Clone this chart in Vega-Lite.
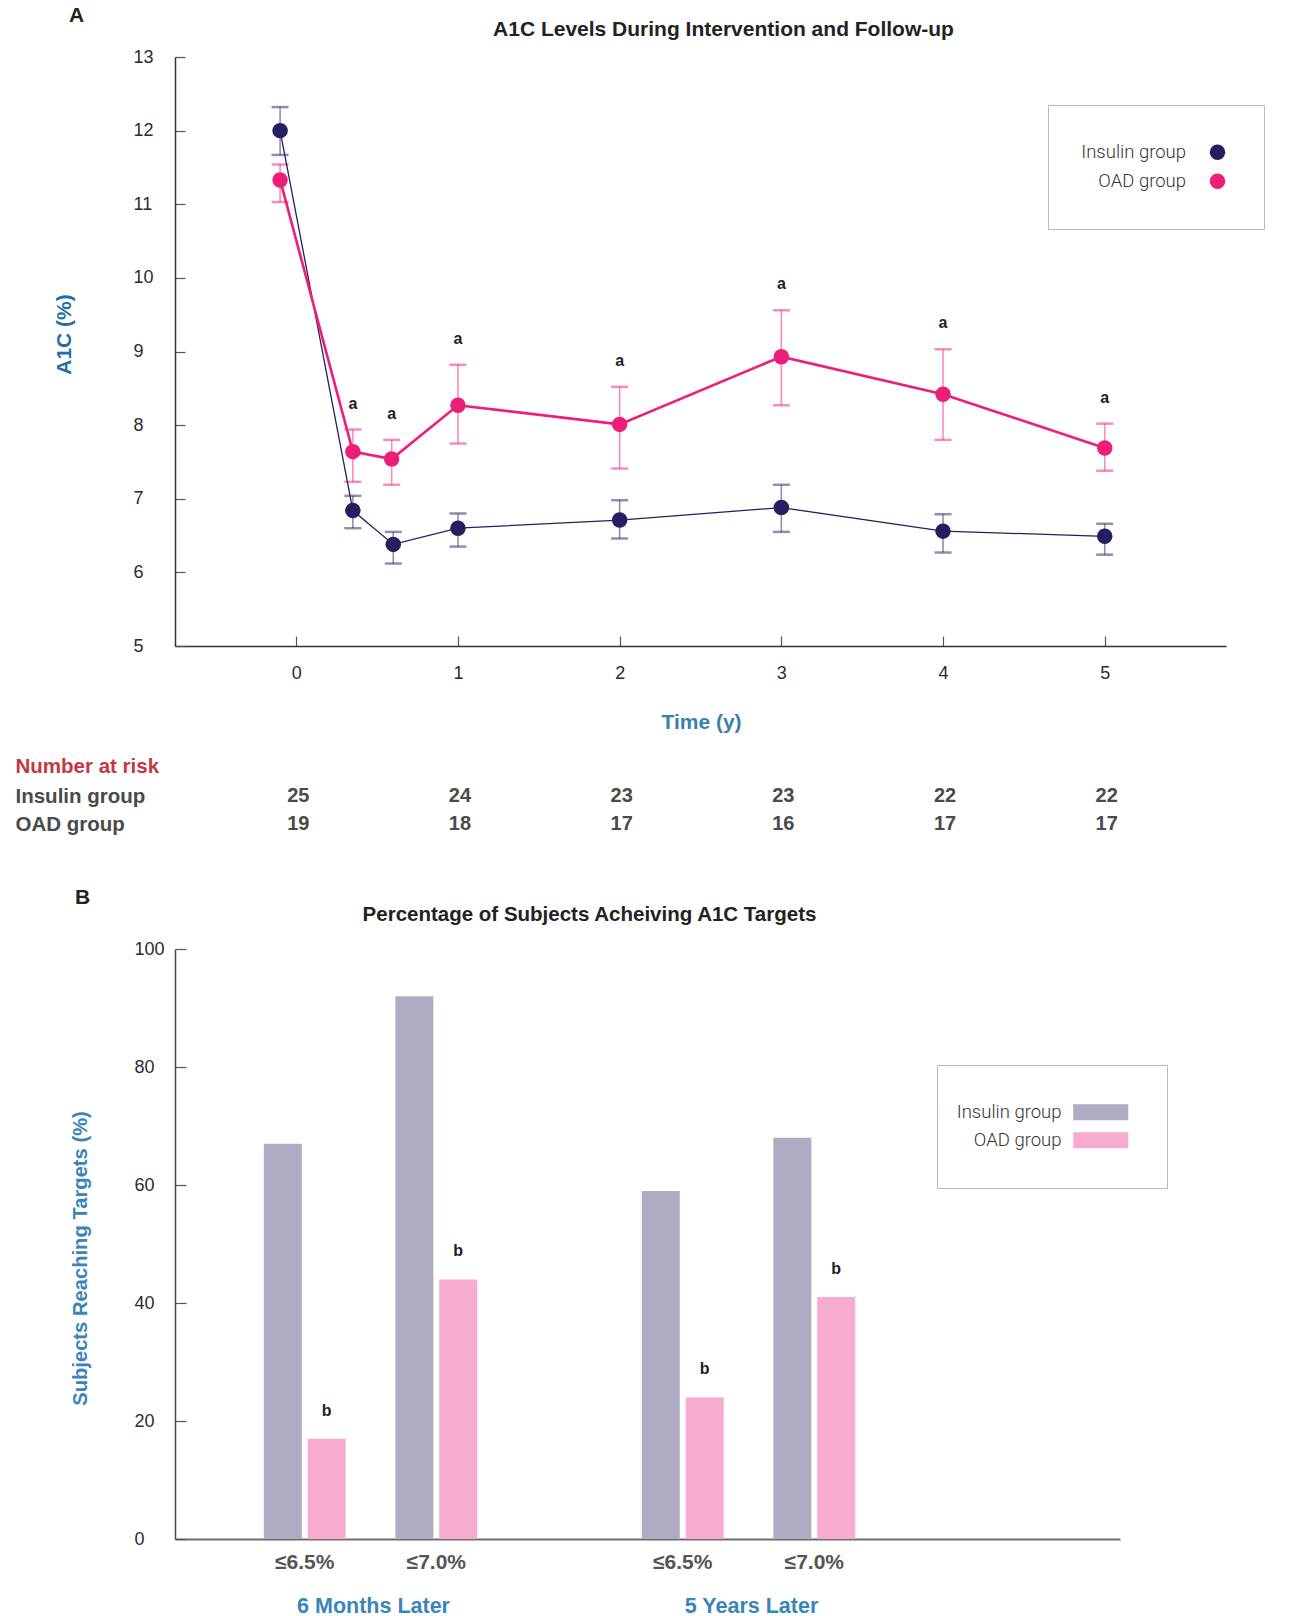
{
  "$schema": "https://vega.github.io/schema/vega-lite/v6.json",
  "autosize": {"type": "pad"},
  "padding": {"left": 15, "top": 5, "right": 5, "bottom": 5},
  "background": "white",
  "title": {"text": "A", "anchor": "start", "frame": "bounds", "offset": -7, "dx": 54, "fontSize": 21, "fontWeight": "bold", "font": "Liberation Sans", "color": "#222222"},
  "datasets": {
    "a1c": [
      {"group": "Insulin group", "year": -0.1, "mean": 12.0, "lo": 11.67, "hi": 12.32, "sig": ""},
      {"group": "Insulin group", "year": 0.35, "mean": 6.84, "lo": 6.60, "hi": 7.04, "sig": ""},
      {"group": "Insulin group", "year": 0.6, "mean": 6.38, "lo": 6.12, "hi": 6.55, "sig": ""},
      {"group": "Insulin group", "year": 1, "mean": 6.60, "lo": 6.35, "hi": 6.80, "sig": ""},
      {"group": "Insulin group", "year": 2, "mean": 6.71, "lo": 6.46, "hi": 6.98, "sig": ""},
      {"group": "Insulin group", "year": 3, "mean": 6.88, "lo": 6.55, "hi": 7.19, "sig": ""},
      {"group": "Insulin group", "year": 4, "mean": 6.56, "lo": 6.27, "hi": 6.79, "sig": ""},
      {"group": "Insulin group", "year": 5, "mean": 6.49, "lo": 6.24, "hi": 6.66, "sig": ""},
      {"group": "OAD group", "year": -0.1, "mean": 11.33, "lo": 11.03, "hi": 11.54, "sig": ""},
      {"group": "OAD group", "year": 0.35, "mean": 7.64, "lo": 7.23, "hi": 7.94, "sig": "a"},
      {"group": "OAD group", "year": 0.59, "mean": 7.54, "lo": 7.19, "hi": 7.80, "sig": "a"},
      {"group": "OAD group", "year": 1, "mean": 8.27, "lo": 7.75, "hi": 8.82, "sig": "a"},
      {"group": "OAD group", "year": 2, "mean": 8.01, "lo": 7.41, "hi": 8.52, "sig": "a"},
      {"group": "OAD group", "year": 3, "mean": 8.93, "lo": 8.27, "hi": 9.56, "sig": "a"},
      {"group": "OAD group", "year": 4, "mean": 8.42, "lo": 7.80, "hi": 9.03, "sig": "a"},
      {"group": "OAD group", "year": 5, "mean": 7.69, "lo": 7.38, "hi": 8.02, "sig": "a"}
    ],
    "risk": [
      {"group": "Insulin group", "year": 0, "n": 25},
      {"group": "Insulin group", "year": 1, "n": 24},
      {"group": "Insulin group", "year": 2, "n": 23},
      {"group": "Insulin group", "year": 3, "n": 23},
      {"group": "Insulin group", "year": 4, "n": 22},
      {"group": "Insulin group", "year": 5, "n": 22},
      {"group": "OAD group", "year": 0, "n": 19},
      {"group": "OAD group", "year": 1, "n": 18},
      {"group": "OAD group", "year": 2, "n": 17},
      {"group": "OAD group", "year": 3, "n": 16},
      {"group": "OAD group", "year": 4, "n": 17},
      {"group": "OAD group", "year": 5, "n": 17}
    ],
    "bars": [
      {"period": "6 Months Later", "target": "≤6.5%", "group": "Insulin group", "slot": "≤6.5% Insulin group", "value": 67, "sig": ""},
      {"period": "6 Months Later", "target": "≤6.5%", "group": "OAD group", "slot": "≤6.5% OAD group", "value": 17, "sig": "b"},
      {"period": "6 Months Later", "target": "≤7.0%", "group": "Insulin group", "slot": "≤7.0% Insulin group", "value": 92, "sig": ""},
      {"period": "6 Months Later", "target": "≤7.0%", "group": "OAD group", "slot": "≤7.0% OAD group", "value": 44, "sig": "b"},
      {"period": "5 Years Later", "target": "≤6.5%", "group": "Insulin group", "slot": "≤6.5% Insulin group", "value": 59, "sig": ""},
      {"period": "5 Years Later", "target": "≤6.5%", "group": "OAD group", "slot": "≤6.5% OAD group", "value": 24, "sig": "b"},
      {"period": "5 Years Later", "target": "≤7.0%", "group": "Insulin group", "slot": "≤7.0% Insulin group", "value": 68, "sig": ""},
      {"period": "5 Years Later", "target": "≤7.0%", "group": "OAD group", "slot": "≤7.0% OAD group", "value": 41, "sig": "b"}
    ],
    "targets": [
      {"period": "6 Months Later", "slot": "≤6.5%", "label": "≤6.5%"},
      {"period": "6 Months Later", "slot": "≤7.0%", "label": "≤7.0%"},
      {"period": "5 Years Later", "slot": "≤6.5%", "label": "≤6.5%"},
      {"period": "5 Years Later", "slot": "≤7.0%", "label": "≤7.0%"}
    ]
  },
  "vconcat": [
    {
      "width": 1051,
      "height": 589,
      "title": {"text": "A1C Levels During Intervention and Follow-up", "anchor": "middle", "dx": 23, "offset": 8, "fontSize": 21, "fontWeight": "bold", "font": "Liberation Sans", "color": "#222222"},
      "data": {"name": "a1c"},
      "encoding": {
        "x": {"field": "year", "type": "quantitative", "scale": {"domain": [-0.75, 5.75], "nice": false, "zero": false},
          "axis": {"values": [0, 1, 2, 3, 4, 5], "tickSize": -10, "labelPadding": 37, "labelBaseline": "middle", "labelFlush": false,
            "title": "Time (y)", "titleX": 526, "titleY": 76, "titleAlign": "center", "titleBaseline": "middle", "titleFontSize": 21, "titleFontWeight": "bold", "titleColor": "#3a7fb0",
            "domainColor": "#333333", "domainWidth": 1.5}},
        "y": {"field": "mean", "type": "quantitative", "scale": {"domain": [5, 13], "nice": false, "zero": false},
          "axis": {"values": [5, 6, 7, 8, 9, 10, 11, 12, 13], "tickSize": -10, "labelAlign": "left", "labelPadding": 52, "labelBaseline": "middle", "labelFlush": false,
            "title": "A1C (%)", "titleX": -111, "titleY": 277, "titleAngle": -90, "titleAlign": "center", "titleBaseline": "middle", "titleFontSize": 21, "titleFontWeight": "bold", "titleColor": "#1f6fa8",
            "domainColor": "#333333", "domainWidth": 1.5}}
      },
      "layer": [
        {
          "transform": [{"filter": "datum.group === 'Insulin group'"}],
          "mark": {"type": "errorbar", "color": "#241f5e", "ticks": {"size": 17, "thickness": 2.5, "opacity": 0.5}, "rule": {"strokeWidth": 1.6, "opacity": 0.5}},
          "encoding": {"y": {"field": "lo", "type": "quantitative"}, "y2": {"field": "hi"}}
        },
        {
          "transform": [{"filter": "datum.group === 'OAD group'"}],
          "mark": {"type": "errorbar", "color": "#ec1e79", "ticks": {"size": 17, "thickness": 2.5, "opacity": 0.5}, "rule": {"strokeWidth": 1.6, "opacity": 0.5}},
          "encoding": {"y": {"field": "lo", "type": "quantitative"}, "y2": {"field": "hi"}}
        },
        {
          "transform": [{"filter": "datum.group === 'Insulin group'"}],
          "mark": {"type": "line", "color": "#241f5e", "strokeWidth": 1.3},
          "encoding": {}
        },
        {
          "transform": [{"filter": "datum.group === 'OAD group'"}],
          "mark": {"type": "line", "color": "#ec1e79", "strokeWidth": 2.6},
          "encoding": {}
        },
        {
          "mark": {"type": "point", "filled": true, "size": 240, "opacity": 1, "strokeWidth": 0},
          "encoding": {
            "color": {"field": "group", "type": "nominal", "scale": {"domain": ["Insulin group", "OAD group"], "range": ["#241f5e", "#ec1e79"]},
              "legend": {"title": null, "orient": "none", "legendX": 873, "legendY": 48, "direction": "vertical",
                "padding": 38, "strokeColor": "#b8b8bc", "fillColor": "white",
                "labelAlign": "right", "labelOffset": -40.75, "symbolOffset": 122.25, "rowPadding": 10,
                "labelFont": "Roboto", "labelFontWeight": 300, "labelFontSize": 18.5, "labelColor": "#333333",
                "symbolType": "circle", "symbolSize": 240, "symbolStrokeWidth": 0, "symbolOpacity": 1}}
          }
        },
        {
          "transform": [{"filter": "datum.sig === 'a'"}],
          "mark": {"type": "text", "dy": -26, "baseline": "middle", "fontSize": 16, "fontWeight": "bold", "font": "Liberation Sans", "color": "#222222"},
          "encoding": {
            "y": {"field": "hi", "type": "quantitative"},
            "text": {"field": "sig", "type": "nominal"}
          }
        }
      ]
    },
    {
      "width": 1051,
      "height": 103,
      "data": {"name": "risk"},
      "mark": {"type": "text", "fontSize": 20, "fontWeight": "bold", "font": "Liberation Sans", "color": "#4a4a4a", "dx": 2, "baseline": "middle"},
      "encoding": {
        "x": {"field": "year", "type": "quantitative", "scale": {"domain": [-0.75, 5.75], "nice": false, "zero": false},
          "axis": {"orient": "bottom", "title": "B", "labels": false, "ticks": false, "domain": false, "grid": false,
            "titleX": -93, "titleY": 48, "titleAngle": 0, "titleAlign": "center", "titleBaseline": "middle", "titleFontSize": 21, "titleFontWeight": "bold", "titleColor": "#222222"}},
        "y": {"field": "group", "type": "nominal", "scale": {"type": "point", "domain": ["Insulin group", "OAD group"], "range": [50, 78], "padding": 0},
          "axis": {"title": "Number at risk", "labelAlign": "left", "labelPadding": 160, "ticks": false, "domain": false, "labelBaseline": "middle",
            "labelFontSize": 20.5, "labelFontWeight": "bold", "labelColor": "#4a4a4a", "labelFont": "Liberation Sans",
            "titleX": -160, "titleY": 20, "titleAngle": 0, "titleAlign": "left", "titleBaseline": "middle", "titleColor": "#c1393f", "titleFontSize": 20.5, "titleFontWeight": "bold"}},
        "text": {"field": "n", "type": "quantitative"}
      }
    },
    {
      "width": 945,
      "height": 590,
      "title": {"text": "Percentage of Subjects Acheiving A1C Targets", "anchor": "middle", "dx": -58, "offset": 15, "fontSize": 20.5, "fontWeight": "bold", "font": "Liberation Sans", "color": "#222222"},
      "encoding": {
        "x": {"field": "period", "type": "nominal", "sort": null,
          "scale": {"domain": ["6 Months Later", "5 Years Later"], "paddingInner": 0.478, "paddingOuter": 0.489, "align": 0.262},
          "axis": {"title": null, "ticks": false, "labelPadding": 67, "labelBaseline": "middle", "labelAngle": 0, "labelOffset": 3,
            "labelFontSize": 21.5, "labelFontWeight": "bold", "labelColor": "#3a85b8", "domainColor": "#6e6e6e", "domainWidth": 2}},
        "xOffset": {"field": "slot", "type": "nominal",
          "scale": {"domain": ["≤6.5% Insulin group", "≤6.5%", "≤6.5% OAD group", "gap 1", "gap 2", "gap 3", "≤7.0% Insulin group", "≤7.0%", "≤7.0% OAD group"], "paddingInner": 0, "paddingOuter": 0}}
      },
      "layer": [
        {
          "data": {"name": "bars"},
          "mark": {"type": "bar", "width": 38},
          "encoding": {
            "y": {"field": "value", "type": "quantitative", "scale": {"domain": [0, 100], "nice": false},
              "axis": {"values": [0, 20, 40, 60, 80, 100], "tickSize": -11, "labelAlign": "left", "labelPadding": 52, "labelBaseline": "middle", "labelFlush": false,
                "title": "Subjects Reaching Targets (%)", "titleX": -95, "titleY": 309, "titleAngle": -90, "titleAlign": "center", "titleBaseline": "middle",
                "titleFontSize": 20.2, "titleFontWeight": "bold", "titleColor": "#3a85b8", "domainColor": "#4a4a4a", "domainWidth": 1.5}},
            "color": {"field": "group", "type": "nominal", "scale": {"domain": ["Insulin group", "OAD group"], "range": ["#aeacc3", "#f6abcf"]},
              "legend": {"title": null, "orient": "none", "legendX": 762, "legendY": 116, "direction": "vertical",
                "padding": 38, "strokeColor": "#b8b8bc", "fillColor": "white",
                "labelAlign": "right", "labelOffset": -48.5, "symbolOffset": 116.5, "rowPadding": 9,
                "labelFont": "Roboto", "labelFontWeight": 300, "labelFontSize": 18.5, "labelColor": "#333333",
                "symbolType": "M-3.44,-1H3.44V1H-3.44Z", "symbolSize": 256, "symbolStrokeWidth": 0, "symbolOpacity": 1}}
          }
        },
        {
          "data": {"name": "bars"},
          "transform": [{"filter": "datum.sig === 'b'"}],
          "mark": {"type": "text", "dy": -28, "baseline": "middle", "fontSize": 16, "fontWeight": "bold", "font": "Liberation Sans", "color": "#222222"},
          "encoding": {
            "y": {"field": "value", "type": "quantitative"},
            "text": {"field": "sig", "type": "nominal"}
          }
        },
        {
          "data": {"name": "targets"},
          "mark": {"type": "text", "dy": 24, "baseline": "middle", "fontSize": 21, "fontWeight": "bold", "font": "Liberation Sans", "color": "#555555"},
          "encoding": {
            "y": {"datum": 0, "type": "quantitative"},
            "text": {"field": "label", "type": "nominal"}
          }
        }
      ]
    }
  ],
  "spacing": 100,
  "bounds": "flush",
  "resolve": {"scale": {"color": "independent", "x": "independent", "y": "independent", "xOffset": "independent"}, "legend": {"color": "independent"}},
  "config": {
    "font": "Liberation Sans",
    "view": {"stroke": null},
    "axis": {"grid": false, "labelFont": "Liberation Sans", "labelFontSize": 18, "labelColor": "#2b2b2b", "titleFont": "Liberation Sans", "tickColor": "#555555", "tickWidth": 1.2},
    "legend": {"labelFont": "Roboto"}
  }
}
